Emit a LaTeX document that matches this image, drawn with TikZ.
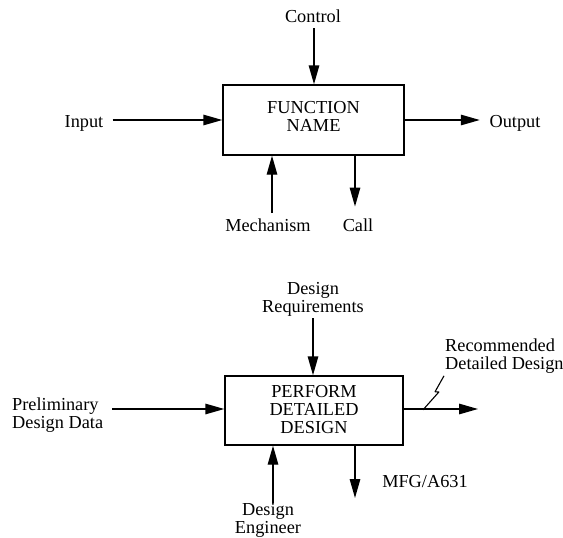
\documentclass[tikz,border=0pt]{standalone}
\usepackage{fontspec}
\setmainfont{Liberation Serif}
\usetikzlibrary{positioning,calc,arrows.meta}

\begin{document}
\begin{tikzpicture}[x=1pt, y=-1pt,
    idef box/.style={draw, rectangle, line width=1.4pt, inner sep=0pt},
    idef text/.style={inner sep=1pt, align=center},
    flow/.style={line width=1.4pt, -{Triangle[length=19pt, width=10.5pt]}},
    squiggle/.style={line width=1.1pt, line join=bevel},
    font=\fontsize{18.3}{18}\selectfont]
    \useasboundingbox (0,0) rectangle (563,538);

    % generic IDEF0 box
    \node[idef box, minimum width=181pt, minimum height=70pt] (fn) at (313.5,120) {};
    \node[idef text] (fntext) at ([yshift=4pt]fn.center) {FUNCTION\\NAME};
    \node[idef text] (ctl) at (313,16.3) {Control};
    \node[idef text] (inp) at (84,123.3) {Input};
    \node[idef text] (out) at (515,123.3) {Output};
    \node[idef text] (mech) at (268,225.5) {Mechanism};
    \node[idef text] (call) at (358,225.5) {Call};

    \draw[flow, shorten <=4.5pt] ([xshift=1pt]ctl.south) -- ([xshift=1pt]ctl.south |- fn.north);
    \draw[flow, shorten <=8pt] ([yshift=3.3pt]inp.east) -- ([yshift=3.3pt]inp.east -| fn.west);
    \draw[flow, shorten >=8.6pt] ([yshift=3.3pt]out.west -| fn.east) -- ([yshift=3.3pt]out.west);
    \draw[flow, shorten <=4.7pt] ([xshift=4pt]mech.north) -- ([xshift=4pt]mech.north |- fn.south);
    \draw[flow, shorten >=11.3pt] ([xshift=-3pt]call.north |- fn.south) -- ([xshift=-3pt]call.north);

    % example box
    \node[idef box, minimum width=178pt, minimum height=69pt] (pf) at (314,410.5) {};
    \node[idef text] (pftext) at ([yshift=1pt]pf.center) {PERFORM\\DETAILED\\DESIGN};
    \node[idef text] (req) at (313,299) {Design\\Requirements};
    \node[idef text, align=left, anchor=west] (pdd) at (11,415) {Preliminary\\Design Data};
    \node[idef text, align=left, anchor=west] (rec) at (444,355.8) {Recommended\\Detailed Design};
    \node[idef text] (eng) at (268,520) {Design\\Engineer};
    \node[idef text] (mfg) at (425,481.5) {MFG/A631};
    \coordinate (recend) at (478,409);
    \coordinate (pfcall) at (355,498);

    \draw[flow, shorten <=1pt] (req.south) -- (req.south |- pf.north);
    \draw[flow, shorten <=8pt] ([yshift=6pt]pdd.east) -- ([yshift=6pt]pdd.east -| pf.west);
    \draw[flow] (recend -| pf.east) -- (recend);
    \draw[squiggle] ([yshift=-1.5pt]rec.south west) -- ++(-9,16) -- ++(4,0) -- ++(-16,18);
    \draw[flow, shorten <=-1.5pt] ([xshift=5pt]eng.north) -- ([xshift=5pt]eng.north |- pf.south);
    \draw[flow] (pfcall |- pf.south) -- (pfcall);
\end{tikzpicture}
\end{document}
